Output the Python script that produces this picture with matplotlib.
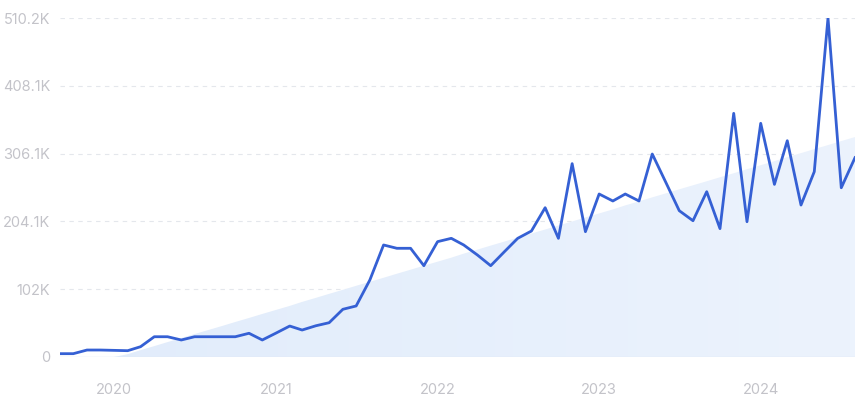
import numpy as np
import pandas as pd
import matplotlib
matplotlib.use('Agg')
import matplotlib.pyplot as plt
import matplotlib.dates as mdates

# monthly values, Sep 2019 .. Aug 2024
months = pd.date_range('2019-09-01', '2024-08-01', freq='MS')
values = [5000, 5000, 10500, 10500, 10000, 9500, 15500, 30500, 30500, 25600,
          30500, 30500, 30500, 30500, 35700, 25600, 36000, 46600, 40600, 47000,
          51600, 71800, 76800, 115900, 168600, 163600, 163600, 137400, 173600, 178600,
          168600, 153500, 137400, 158500, 178600, 189600, 224700, 178600, 291000, 188600,
          245300, 234800, 245300, 234800, 305500, 262300, 220200, 205100, 248800, 193200,
          366700, 203600, 351700, 259800, 325500, 228700, 278900, 510200, 254700, 300000]
yticks = [0, 102000, 204100, 306100, 408100, 510200]
ytick_labels = ['0', '102K', '204.1K', '306.1K', '408.1K', '510.2K']
years = ['2020', '2021', '2022', '2023', '2024']

plt.rcParams['font.family'] = ['Inter', 'DejaVu Sans']

fig = plt.figure(figsize=(8.62, 4.01), dpi=100)
ax = fig.add_axes([60/862, 1-357/401, 795/862, 339/401])

x = mdates.date2num(months)
y = np.array(values, dtype=float)

# linear trend area, clipped at zero
k, b = np.polyfit(np.arange(len(y)), y, 1)
trend = np.clip(k*np.arange(len(y)) + b, 0, None)
poly = ax.fill_between(x, 0, trend, color='none', lw=0)
grad = np.linspace(0, 1, 256).reshape(1, -1)
cmap = matplotlib.colors.LinearSegmentedColormap.from_list('g', ['#e1ecfb', '#ecf3fd'])
img = ax.imshow(grad, cmap=cmap, aspect='auto', extent=[x[0], x[-1], 0, 520000],
                zorder=1, interpolation='bilinear')
img.set_clip_path(poly.get_paths()[0], transform=ax.transData)

ax.plot(x, y, color='#3560d4', lw=2.0, zorder=3)

ax.set_xlim(x[0], x[-1])
ax.set_ylim(0, 510200)
ax.set_yticks(yticks)
ax.set_yticklabels(ytick_labels)
ax.set_xticks(mdates.date2num([pd.Timestamp(yr + '-01-01') for yr in years]))
ax.set_xticklabels(years)

for v in yticks[1:]:
    ax.axhline(v, color='#e4e7ec', lw=0.8, ls=(0, (4, 4)), zorder=0)
ax.axhline(0, color='#dfe7f5', lw=1, zorder=2)

for s in ax.spines.values():
    s.set_visible(False)
ax.tick_params(length=0, colors='#c3c3c9', labelsize=10.5)
ax.tick_params(axis='y', pad=7)
ax.tick_params(axis='x', pad=19)

fig.savefig('out.png', dpi=100)
